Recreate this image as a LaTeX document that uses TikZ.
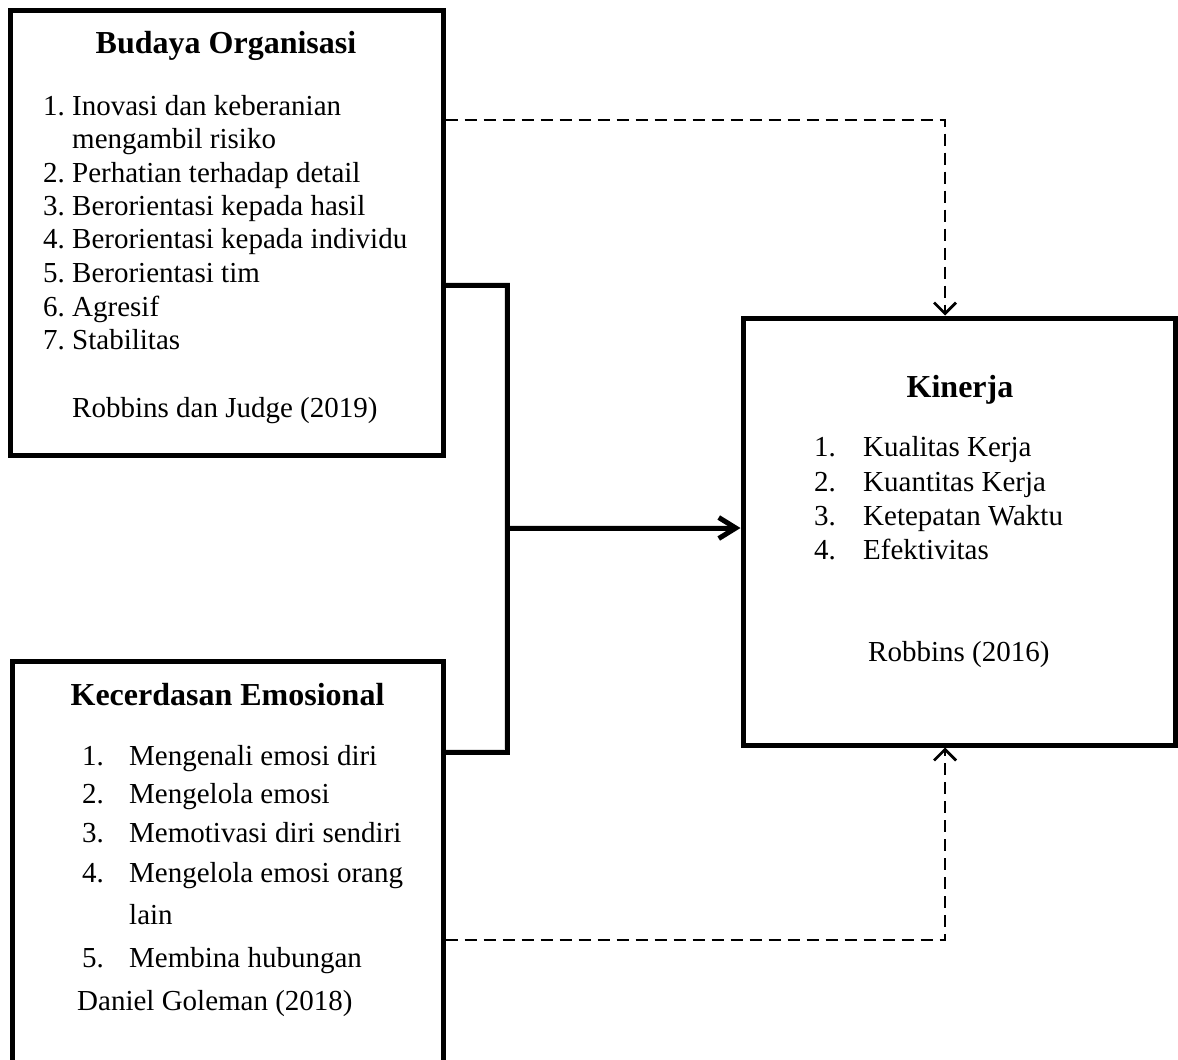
\documentclass[tikz,border=0pt]{standalone}
\usepackage{fontspec}
\setmainfont{Liberation Serif}
\usetikzlibrary{arrows.meta}
\begin{document}
\begin{tikzpicture}[x=1pt,y=-1pt,
  box/.style={draw, line width=5pt, rectangle, inner sep=0pt},
  txt/.style={anchor=base west, inner sep=0pt, font=\fontsize{29}{33}\selectfont},
  ttl/.style={anchor=base, inner sep=0pt, font=\fontsize{32}{36}\selectfont\bfseries},
  solidconn/.style={line width=5pt},
  shadowconn/.style={line width=6pt, black!12},
  dashconn/.style={line width=2.8pt, dash pattern=on 12pt off 7pt, -{Straight Barb[length=11pt,width=22pt]}},
  ]
\useasboundingbox (0,0) rectangle (1178,1060);
\fill[white] (0,0) rectangle (1178,1060);

% boxes
\node[box, minimum width=433pt, minimum height=445pt] (b1) at (226.5,232.5) {};
\node[box, minimum width=431pt, minimum height=401pt] (b2) at (227.5,861.5) {};
\node[box, minimum width=432pt, minimum height=427pt] (b3) at (959,531.5) {};

% Budaya Organisasi
\node[ttl] (b1t) at (226,53) {Budaya Organisasi};
\node[txt] (b1n1) at (43,115) {1.};
\node[txt] (b1i1) at (72,115) {Inovasi dan keberanian};
\node[txt] (b1i1b) at (72,148) {mengambil risiko};
\node[txt] (b1n2) at (43,182) {2.};
\node[txt] (b1i2) at (72,182) {Perhatian terhadap detail};
\node[txt] (b1n3) at (43,215) {3.};
\node[txt] (b1i3) at (72,215) {Berorientasi kepada hasil};
\node[txt] (b1n4) at (43,248) {4.};
\node[txt] (b1i4) at (72,248) {Berorientasi kepada individu};
\node[txt] (b1n5) at (43,282) {5.};
\node[txt] (b1i5) at (72,282) {Berorientasi tim};
\node[txt] (b1n6) at (43,316) {6.};
\node[txt] (b1i6) at (72,316) {Agresif};
\node[txt] (b1n7) at (43,349) {7.};
\node[txt] (b1i7) at (72,349) {Stabilitas};
\node[txt] (b1r) at (72,417) {Robbins dan Judge (2019)};

% Kecerdasan Emosional
\node[ttl] (b2t) at (227.5,705) {Kecerdasan Emosional};
\node[txt] (b2n1) at (82,765) {1.};
\node[txt] (b2i1) at (129,765) {Mengenali emosi diri};
\node[txt] (b2n2) at (82,803) {2.};
\node[txt] (b2i2) at (129,803) {Mengelola emosi};
\node[txt] (b2n3) at (82,842) {3.};
\node[txt] (b2i3) at (129,842) {Memotivasi diri sendiri};
\node[txt] (b2n4) at (82,882) {4.};
\node[txt] (b2i4) at (129,882) {Mengelola emosi orang};
\node[txt] (b2i4b) at (129,924) {lain};
\node[txt] (b2n5) at (82,967) {5.};
\node[txt] (b2i5) at (129,967) {Membina hubungan};
\node[txt] (b2r) at (77,1010) {Daniel Goleman (2018)};

% Kinerja
\node[ttl] (b3t) at (960,397) {Kinerja};
\node[txt] (b3n1) at (814,456) {1.};
\node[txt] (b3i1) at (863,456) {Kualitas Kerja};
\node[txt] (b3n2) at (814,491) {2.};
\node[txt] (b3i2) at (863,491) {Kuantitas Kerja};
\node[txt] (b3n3) at (814,525) {3.};
\node[txt] (b3i3) at (863,525) {Ketepatan Waktu};
\node[txt] (b3n4) at (814,559) {4.};
\node[txt] (b3i4) at (863,559) {Efektivitas};
\node[txt] (b3r) at (868,661) {Robbins (2016)};

% connectors
\coordinate (jt) at (507,285);
\coordinate (jb) at (507,752);
\coordinate (jm) at (507,528);
\begin{scope}[shift={(1.5,3)}]
  \draw[shadowconn] (b1.east |- jt) -- (jt) -- (jb) -- (b2.east |- jb);
  \draw[shadowconn] (jm) -- ([xshift=-6pt]b3.west |- jm);
\end{scope}
\draw[solidconn] (b1.east |- jt) -- (jt) -- (jb) -- (b2.east |- jb);
\draw[solidconn, -{Straight Barb[length=17pt,width=21pt]}] (jm) -- (b3.west |- jm);

\coordinate (d1) at (945,120);
\coordinate (d2) at (945,940);
\draw[dashconn] (b1.east |- d1) -- (d1) -- (d1 |- b3.north);
\draw[dashconn] (b2.east |- d2) -- (d2) -- (d2 |- b3.south);
\end{tikzpicture}
\end{document}
